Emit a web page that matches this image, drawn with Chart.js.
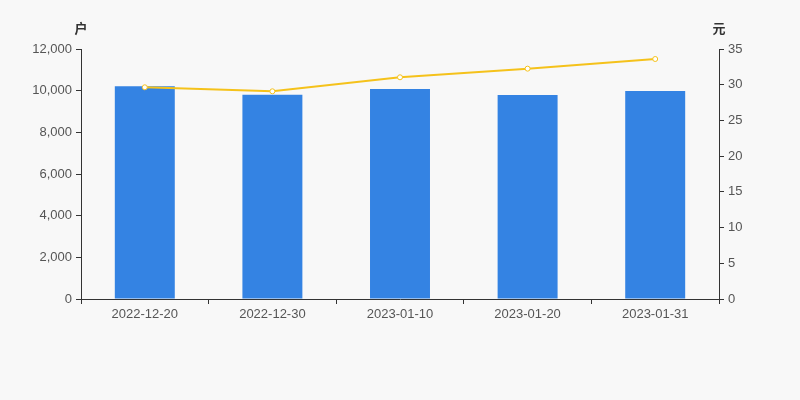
<!DOCTYPE html>
<html>
<head>
<meta charset="utf-8">
<script src="https://cdn.jsdelivr.net/npm/chart.js@4"></script>
<style>
  html, body { margin: 0; padding: 0; background: #f8f8f8; }
  #wrap { width: 800px; height: 400px; }
</style>
</head>
<body>
<div id="wrap"><canvas id="chart" width="800" height="400"></canvas></div>
<script>
const dates = ['2022-12-20', '2022-12-30', '2023-01-10', '2023-01-20', '2023-01-31'];
const holders = [10210, 9810, 10080, 9790, 9980];
const avgPrice = [29.64, 29.08, 31.04, 32.25, 33.6];

const axisColor = '#333';
const textColor = '#555';
const labelFont = { family: 'Liberation Sans, Arial, sans-serif', size: 13 };

// draws the unit labels above each y axis
const unitLabels = {
  id: 'unitLabels',
  afterDraw(chart) {
    const ctx = chart.ctx;
    ctx.save();
    ctx.fillStyle = '#333';
    ctx.font = 'bold 13px "Noto Sans CJK SC", sans-serif';
    ctx.textAlign = 'center';
    ctx.textBaseline = 'middle';
    ctx.fillText('户', chart.scales.y.right, 28);
    ctx.fillText('元', chart.scales.y1.left, 28);
    ctx.restore();
  }
};

new Chart(document.getElementById('chart'), {
  type: 'bar',
  data: {
    labels: dates,
    datasets: [
      {
        type: 'line',
        label: '户均持股金额',
        data: avgPrice,
        yAxisID: 'y1',
        borderColor: '#f5c21b',
        borderWidth: 2,
        pointRadius: 2.5,
        pointBackgroundColor: '#ffffff',
        pointBorderColor: '#f5c21b',
        pointBorderWidth: 1,
        tension: 0,
        order: 0
      },
      {
        label: '股东户数',
        data: holders,
        yAxisID: 'y',
        backgroundColor: '#3483e3',
        categoryPercentage: 0.47,
        barPercentage: 1,
        order: 1
      }
    ]
  },
  options: {
    responsive: false,
    animation: false,
    layout: { padding: { top: 49 } },
    plugins: {
      legend: { display: false },
      tooltip: { enabled: false }
    },
    scales: {
      x: {
        offset: true,
        grid: {
          offset: true,
          drawOnChartArea: false,
          drawTicks: true,
          tickLength: 5,
          color: axisColor
        },
        border: { color: axisColor },
        ticks: { color: textColor, font: labelFont, padding: 3, maxRotation: 0 },
        afterFit(scale) { scale.height = 101; }
      },
      y: {
        position: 'left',
        min: 0,
        max: 12000,
        grid: { drawOnChartArea: false, tickLength: 5, color: axisColor },
        border: { color: axisColor },
        ticks: {
          stepSize: 2000,
          color: textColor,
          font: labelFont,
          padding: 4,
          callback: v => v.toLocaleString('en-US')
        },
        afterFit(scale) { scale.width = 81; }
      },
      y1: {
        position: 'right',
        min: 0,
        max: 35,
        grid: { drawOnChartArea: false, tickLength: 5, color: axisColor },
        border: { color: axisColor },
        ticks: { stepSize: 5, color: textColor, font: labelFont, padding: 4 },
        afterFit(scale) { scale.width = 81; }
      }
    }
  },
  plugins: [unitLabels]
});
</script>
</body>
</html>
